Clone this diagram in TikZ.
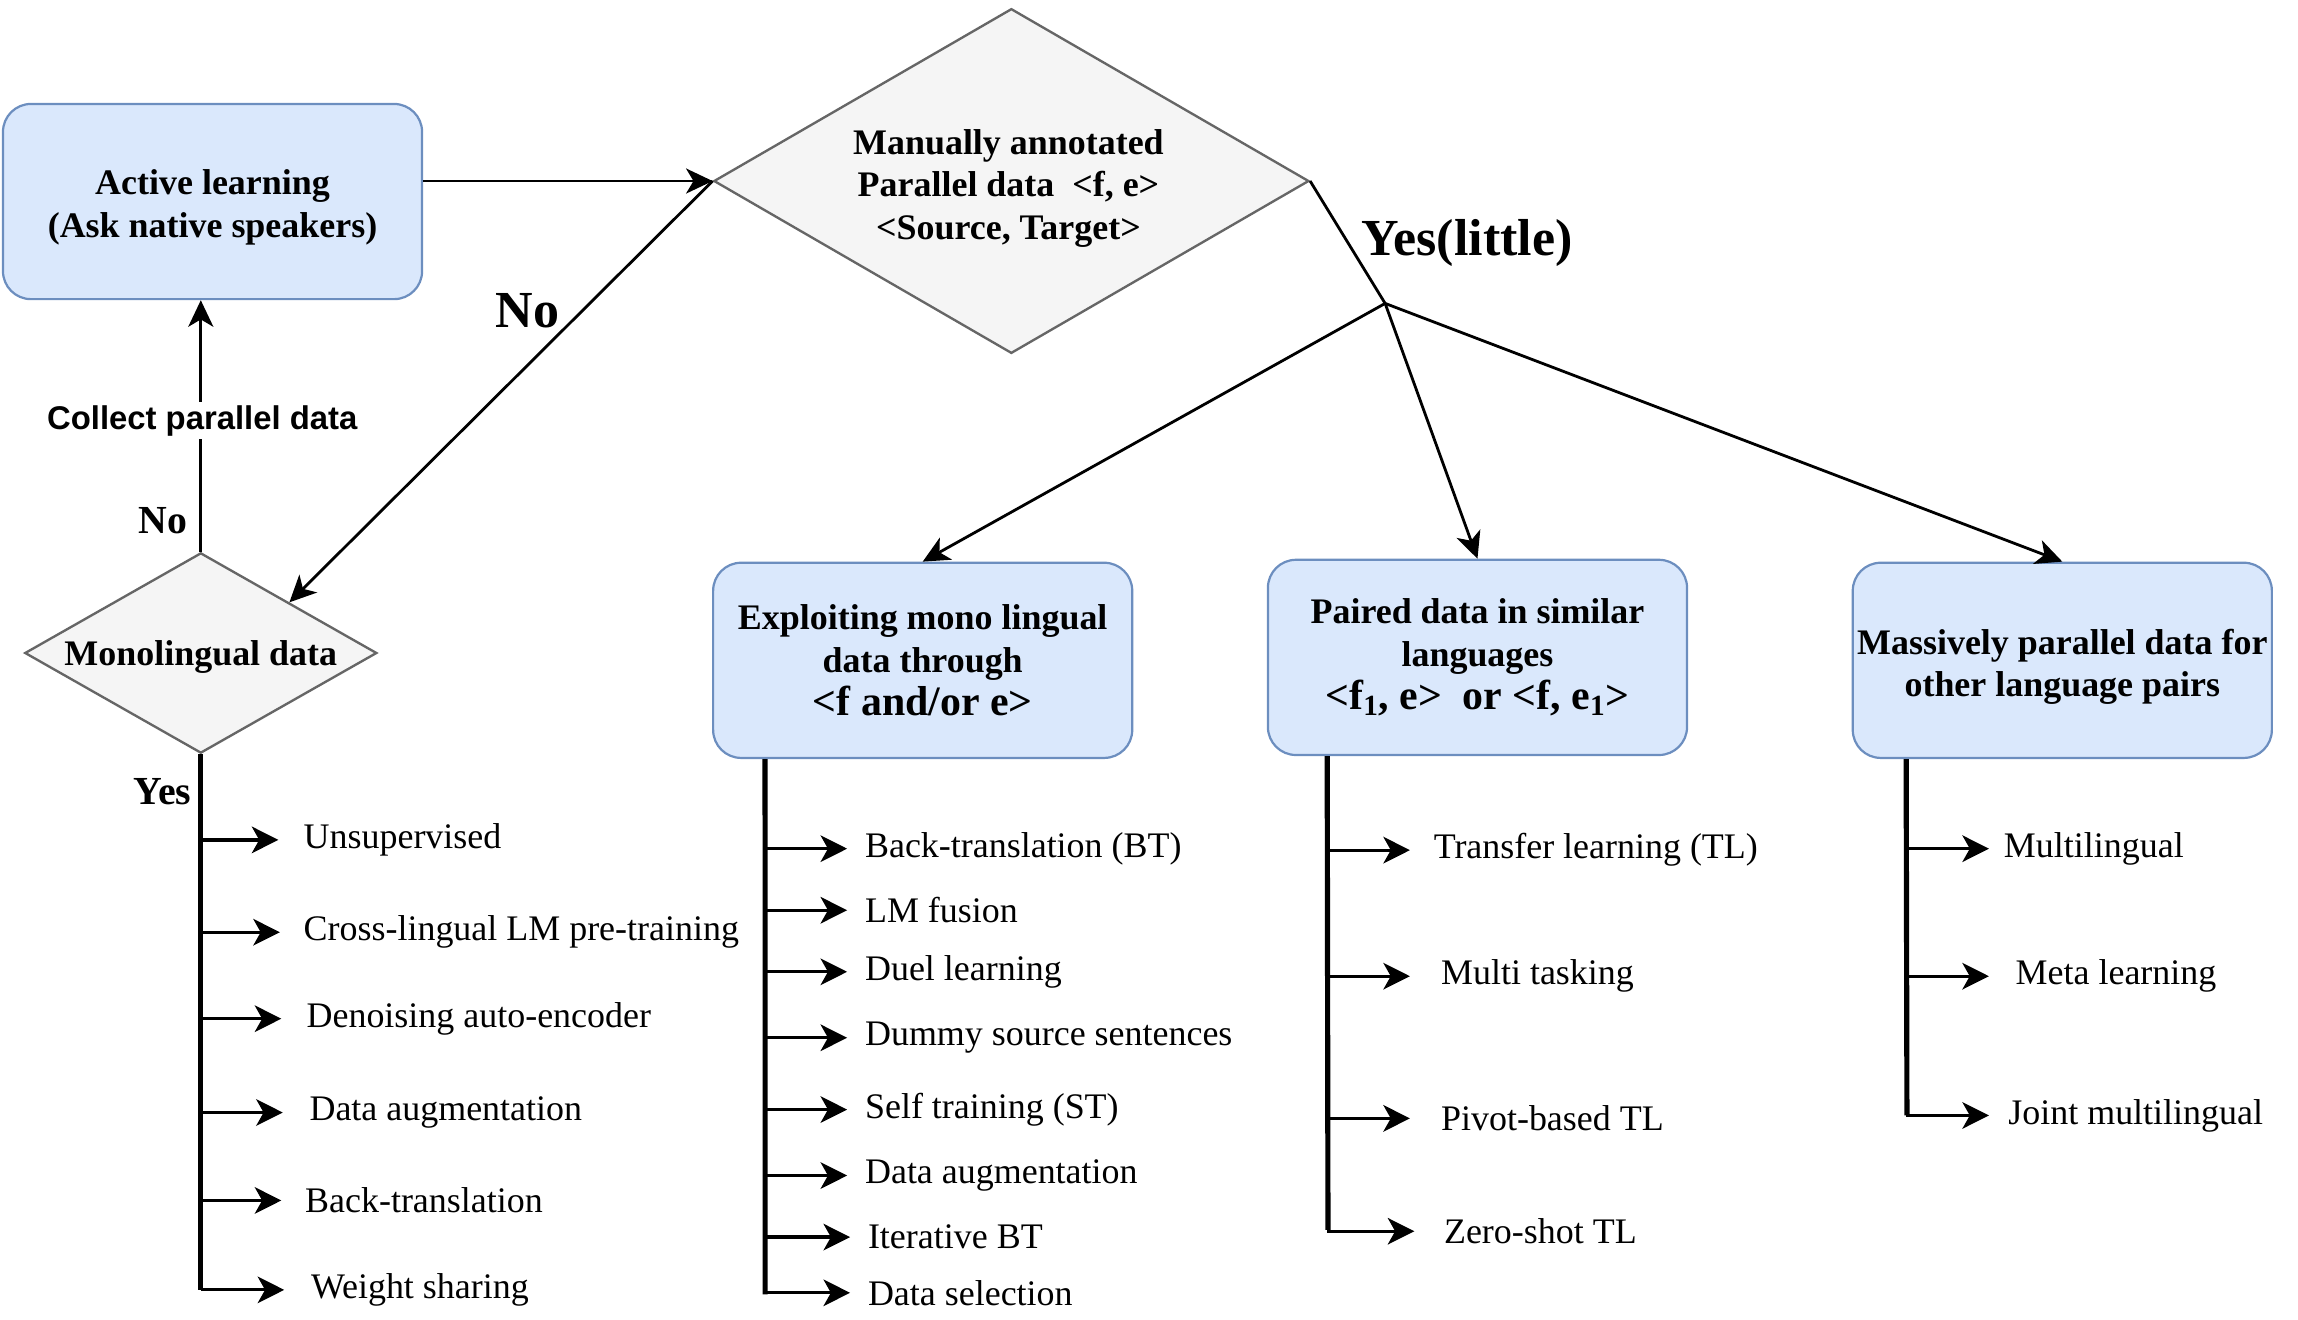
\documentclass[tikz,border=0pt]{standalone}
\usepackage{fontspec}
\setmainfont{Liberation Serif}
\newfontfamily\arialfont{Liberation Sans}
\usetikzlibrary{shapes.geometric,arrows.meta}
\definecolor{boxfill}{HTML}{DAE8FC}
\definecolor{boxline}{HTML}{6C8EBF}
\definecolor{dfill}{HTML}{F5F5F5}
\definecolor{dline}{HTML}{666666}
\newcommand{\fsz}[2]{\fontsize{#1}{#2}\selectfont}
\begin{document}
\begin{tikzpicture}[x=0.995pt,y=-0.995pt,
  bluebox/.style={draw=boxline, fill=boxfill, line width=1.5pt, rounded corners=19pt,
    minimum width=284.5pt, minimum height=132.5pt, align=center, inner sep=0pt,
    font=\bfseries\fsz{24.4}{29}},
  dia/.style={diamond, draw=dline, fill=dfill, line width=1.6pt, inner sep=0pt},
  dtext/.style={align=center, inner sep=0pt, font=\bfseries\fsz{24.4}{29}},
  conn/.style={line width=1.9pt, -{Stealth[length=18pt,width=17pt,inset=5pt]}},
  plainline/.style={line width=1.9pt},
  spine/.style={line width=3.5pt},
  branch/.style={line width=2.2pt, -{Stealth[length=18pt,width=18pt,inset=5pt]}, shorten >=#1},
  branch/.default=16pt,
  item/.style={anchor=west, inner sep=0pt, font=\fsz{24.4}{29}},
  bigl/.style={font=\bfseries\fsz{35.3}{40}, inner sep=0pt},
  midl/.style={font=\bfseries\fsz{27}{30}, inner sep=0pt},
]
\useasboundingbox (0,0) rectangle (1567.8,900.5);

% main nodes
\node[bluebox] (active) at (145,137.5) {\rule{0pt}{25pt}Active learning\\(Ask native speakers)};
\node[dia, minimum width=404pt, minimum height=234pt] (manual) at (690,123.5) {};
\node[dtext] (manualtxt) at (688,128.5) {Manually annotated\\Parallel data~ <f, e>\\<Source, Target>};
\node[dia, minimum width=239pt, minimum height=136pt] (mono) at (137,445.5) {};
\node[dtext] (monotxt) at (137,448.5) {Monolingual data};

\node[bluebox] (box2) at (629.5,450.5) {Exploiting mono lingual\\data through\\{\fsz{28.4}{31}<f and/or e>}};
\node[bluebox] (box3) at (1008,448.5) {Paired data in similar\\languages\\{\fsz{28.4}{31}<f\textsubscript{1}, e>~ or <f, e\textsubscript{1}>}};
\node[bluebox] (box4) at (1407,450.5) {\rule{0pt}{26pt}Massively parallel data for\\other language pairs};

% connectors
\draw[conn] (manual.west -| active.east) -- (manual.west);
\draw[conn] (manual.west) -- (mono.north east);
\draw[conn] (mono.north) -- (mono.north |- active.south);
\node[font=\arialfont\bfseries\fsz{22.3}{26}, fill=white, inner sep=2pt] (collect) at (138,287) {Collect parallel data};

\coordinate (fork) at (945,207);
\draw[plainline] (manual.east) -- (fork);
\draw[conn] (fork) -- (box2.north);
\draw[conn] (fork) -- (box3.north);
\draw[conn] (fork) -- (box4.north);

% labels
\node[bigl] (nolab) at (360,212) {No};
\node[bigl] (yeslittle) at (1001,166) {Yes(little)};
\node[midl] (nosmall) at (111,355) {No};
\node[midl] (yeslab) at (111,540) {Yes};

% column 1
\coordinate (s1end) at (137,880);
\draw[spine] (mono.south) -- (s1end);
\node[item] (a1) at (207,573) {Unsupervised};
\node[item] (a2) at (207,636) {Cross-lingual LM pre-training};
\node[item] (a3) at (209,695) {Denoising auto-encoder};
\node[item] (a4) at (211,759) {Data augmentation};
\node[item] (a5) at (208,819) {Back-translation};
\node[item] (a6) at (212,880) {Weight sharing};
\foreach \n/\s in {a1/17pt,a2/16pt,a3/17pt,a4/18pt,a5/16pt,a6/18pt}
  \draw[branch=\s] (mono.south |- \n.west) -- (\n.west);

% column 2
\coordinate (s2top) at ([xshift=36pt]box2.south west);
\coordinate (s2end) at (522,883);
\draw[spine] (s2top) -- (s2end);
\node[item] (b1) at (590,579) {Back-translation (BT)};
\node[item] (b2) at (590,621) {LM fusion};
\node[item] (b3) at (590,663) {Duel learning};
\node[item] (b4) at (590,708) {Dummy source sentences};
\node[item] (b5) at (590,757) {Self training (ST)};
\node[item] (b6) at (590,802) {Data augmentation};
\node[item] (b7) at (592,844) {Iterative BT};
\node[item] (b8) at (592,882) {Data selection};
\foreach \n in {b1,b2,b3,b4,b5,b6,b7,b8}
  \draw[branch=12pt] (s2top |- \n.west) -- (\n.west);

% column 3
\coordinate (s3top) at ([xshift=41pt]box3.south west);
\coordinate (s3end) at (906,839);
\draw[spine] (s3top) -- (s3end);
\node[item] (c1) at (978,580) {Transfer learning (TL)};
\node[item] (c2) at (983,666) {Multi tasking};
\node[item] (c3) at (983,763) {Pivot-based TL};
\node[item] (c4) at (985,840) {Zero-shot TL};
\foreach \n/\s in {c1/16pt,c2/21pt,c3/21pt,c4/20pt}
  \draw[branch=\s] (s3top |- \n.west) -- (\n.west);

% column 4
\coordinate (s4top) at ([xshift=37pt]box4.south west);
\coordinate (s4end) at (1301,761);
\draw[spine] (s4top) -- (s4end);
\node[item] (d1) at (1367,579) {Multilingual};
\node[item] (d2) at (1375,666) {Meta learning};
\node[item] (d3) at (1370,761) {Joint multilingual};
\foreach \n/\s in {d1/10pt,d2/18pt,d3/13pt}
  \draw[branch=\s] (s4top |- \n.west) -- (\n.west);
\end{tikzpicture}
\end{document}
